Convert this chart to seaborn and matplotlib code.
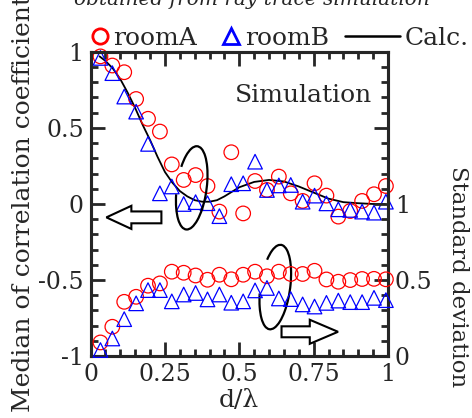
import numpy as np
import pandas as pd
import matplotlib
matplotlib.use("Agg")
import matplotlib.pyplot as plt
import seaborn as sns
from matplotlib.lines import Line2D
from matplotlib.patches import Arc, FancyArrow
from matplotlib.ticker import MultipleLocator

# positions of the simulated points (d/lambda)
d_lambda = [0.033, 0.073, 0.113, 0.153, 0.193, 0.233, 0.273, 0.313, 0.353, 0.393,
            0.433, 0.473, 0.513, 0.553, 0.593, 0.633, 0.673, 0.713, 0.753, 0.793,
            0.833, 0.873, 0.913, 0.953, 0.993]

# median of correlation coefficient (left axis)
roomA_med = [0.97, 0.91, 0.866, 0.69, 0.56, 0.476, 0.26, 0.158, 0.19, 0.118,
             -0.05, 0.34, -0.062, 0.151, 0.092, 0.18, 0.07, 0.02, 0.136, 0.055,
             -0.083, -0.046, 0.02, 0.064, 0.118]
roomB_med = [0.96, 0.86, 0.706, 0.607, 0.395, 0.07, 0.115, 0.0, 0.012, 0.005,
             -0.08, 0.13, 0.136, 0.278, 0.092, 0.122, 0.125, 0.015, 0.055, 0.004,
             -0.035, -0.039, -0.05, -0.057, 0.015]

# standard deviation (right axis)
roomA_std = [0.09, 0.193, 0.357, 0.39, 0.463, 0.478, 0.555, 0.548, 0.53, 0.502,
             0.535, 0.505, 0.535, 0.555, 0.525, 0.555, 0.54, 0.54, 0.561, 0.504,
             0.489, 0.5, 0.507, 0.508, 0.505]
roomB_std = [0.04, 0.116, 0.243, 0.347, 0.434, 0.434, 0.36, 0.405, 0.415, 0.373,
             0.405, 0.351, 0.36, 0.432, 0.448, 0.379, 0.375, 0.34, 0.326, 0.35,
             0.365, 0.355, 0.355, 0.383, 0.368]

# calculated curve
calc_x = [0.03, 0.05, 0.075, 0.1, 0.125, 0.15, 0.175, 0.2, 0.225, 0.25, 0.275, 0.3,
          0.325, 0.35, 0.375, 0.4, 0.425, 0.45, 0.475, 0.5, 0.55, 0.6, 0.65, 0.7,
          0.75, 0.8, 0.85, 0.9, 0.95, 0.99]
calc_y = [0.97, 0.94, 0.89, 0.82, 0.73, 0.63, 0.52, 0.42, 0.31, 0.21, 0.14, 0.085,
          0.05, 0.025, 0.015, 0.015, 0.025, 0.05, 0.08, 0.11, 0.145, 0.158, 0.148,
          0.115, 0.075, 0.035, 0.012, 0.005, 0.0, 0.0]

sns.set_style("ticks")
plt.rcParams['font.family'] = ['DejaVu Serif']
plt.rcParams['axes.unicode_minus'] = False

pts = pd.DataFrame({"d": d_lambda, "A_med": roomA_med, "B_med": roomB_med,
                    "A_std": roomA_std, "B_std": roomB_std})
calc = pd.DataFrame({"d": calc_x, "r": calc_y})

fig = plt.figure(figsize=(4.72, 4.18), dpi=100)
ax = fig.add_axes([0.192, 0.148, 0.63, 0.728])
ax2 = ax.twinx()

red = "#ff0000"
blue = "#0000ff"
msize = 110

sns.lineplot(data=calc, x="d", y="r", color="black", linewidth=1.3, ax=ax, zorder=2)
sns.scatterplot(data=pts, x="d", y="A_med", marker="o", s=msize, facecolors="none",
                edgecolors=red, linewidth=0.9, ax=ax, zorder=3, clip_on=False)
sns.scatterplot(data=pts, x="d", y="B_med", marker="^", s=msize, facecolors="none",
                edgecolors=blue, linewidth=0.9, ax=ax, zorder=4, clip_on=False)
sns.scatterplot(data=pts, x="d", y="A_std", marker="o", s=msize, facecolors="none",
                edgecolors=red, linewidth=0.9, ax=ax2, zorder=3, clip_on=False)
sns.scatterplot(data=pts, x="d", y="B_std", marker="^", s=msize, facecolors="none",
                edgecolors=blue, linewidth=0.9, ax=ax2, zorder=4, clip_on=False)

ax.set_xlim(0, 1)
ax.set_ylim(-1, 1)
ax2.set_ylim(0, 2)

fs = 17
ax.set_xticks([0, 0.25, 0.5, 0.75, 1], ["0", "0.25", "0.5", "0.75", "1"])
ax.set_yticks([-1, -0.5, 0, 0.5, 1], ["-1", "-0.5", "0", "0.5", "1"])
ax2.set_yticks([0, 0.5, 1, 1.5, 2], ["0", "0.5", "1", "", ""])
ax.xaxis.set_minor_locator(MultipleLocator(0.05))
ax.yaxis.set_minor_locator(MultipleLocator(0.1))
ax2.yaxis.set_minor_locator(MultipleLocator(0.1))

ax.tick_params(which="both", direction="in", top=True, right=False, width=2,
               labelsize=fs, pad=5)
ax.tick_params(which="major", length=10)
ax.tick_params(which="minor", length=5)
ax2.tick_params(which="both", direction="in", width=2, labelsize=fs, pad=5)
ax2.tick_params(which="major", length=10)
ax2.tick_params(which="minor", length=5)
for a in (ax, ax2):
    for sp in a.spines.values():
        sp.set_linewidth(2.2)
        sp.set_visible(True)

ax.set_xlabel("d/\u03bb", fontsize=18, labelpad=2)
ax.set_ylabel("Median of correlation coefficient", fontsize=18, labelpad=2)
ax2.set_ylabel("Standard deviation", fontsize=16.5, rotation=270, va="center")
ax2.yaxis.set_label_coords(1.234, 0.262)

ax.text(0.948, 0.855, "Simulation", transform=ax.transAxes, ha="right", va="center",
        fontsize=18)

# ellipses and arrows marking which axis each group belongs to
ax.add_patch(Arc((0.34, 0.553), 0.10, 0.276, angle=-8, theta1=-150, theta2=125,
                 transform=ax.transAxes, lw=1.6, color="black", zorder=5))
ax.add_patch(Arc((0.621, 0.227), 0.10, 0.28, angle=-8, theta1=-150, theta2=115,
                 transform=ax.transAxes, lw=1.6, color="black", zorder=5))
ax.add_patch(FancyArrow(0.238, 0.456, -0.185, 0, width=0.039, head_width=0.076,
                        head_length=0.084, length_includes_head=True,
                        transform=ax.transAxes, fc="white", ec="black", lw=1.5, zorder=5))
ax.add_patch(FancyArrow(0.642, 0.08, 0.19, 0, width=0.036, head_width=0.079,
                        head_length=0.095, length_includes_head=True,
                        transform=ax.transAxes, fc="white", ec="black", lw=1.5, zorder=5))

# legend above the plot
h_a = Line2D([], [], marker="o", ls="none", mfc="none", mec=red, mew=2, ms=11)
h_b = Line2D([], [], marker="^", ls="none", mfc="none", mec=blue, mew=2, ms=11)
h_c = Line2D([], [], color="black", lw=1.8)
fig.legend([h_a, h_b], ["roomA", "roomB"], ncol=2, loc="center left",
           bbox_to_anchor=(0.193, 0.909), frameon=False, fontsize=18,
           handlelength=0.7, handletextpad=0.2, columnspacing=1.0, borderpad=0,
           borderaxespad=0)
fig.legend([h_c], ["Calc."], loc="center left", bbox_to_anchor=(0.731, 0.909),
           frameon=False, fontsize=18, handlelength=2.2, handletextpad=0.2,
           borderpad=0, borderaxespad=0)

fig.text(0.533, 1 - 5 / 418, "obtained from ray trace simulation", ha="center",
         va="baseline", fontsize=14.5, style="italic")

fig.savefig("out.png", dpi=100)
